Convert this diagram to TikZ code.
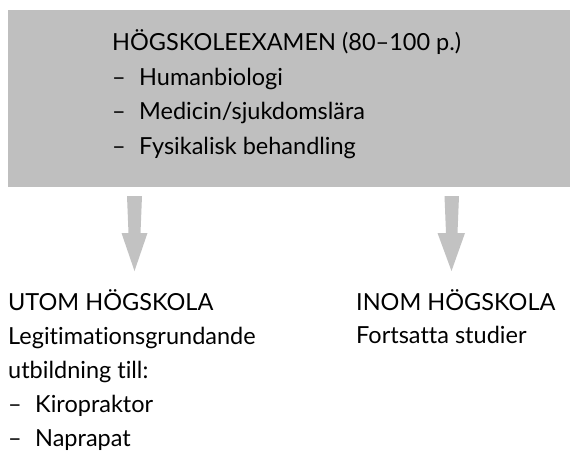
\documentclass[tikz,border=0pt]{standalone}
\usepackage{fontspec}
\setmainfont[RawFeature=-liga]{Lato}
\newcommand\itemdash{\makebox[27pt][l]{–}}
\begin{document}
\begin{tikzpicture}[x=1pt,y=-1pt,
  txt/.style={anchor=base west,inner sep=0pt,font=\fontsize{23.5}{34.5}\selectfont,align=left},
  arrowshape/.style={fill=black!24,draw=none}]
\useasboundingbox (0,0) rectangle (570,451);
\fill[black!25] (8,10) rectangle (570,187);
\node[txt] (top) at (112,50) {HÖGSKOLEEXAMEN (80–100 p.)};
\node[txt] (t1) at (112,85) {\itemdash Humanbiologi};
\node[txt] (t2) at (112,119.5) {\itemdash Medicin/sjukdomslära};
\node[txt] (t3) at (112,154) {\itemdash Fysikalisk behandling};
\fill[arrowshape] (127,196) -- (142,196) -- (140.5,233) -- (147.5,233) -- (134.5,271) -- (121.5,233) -- (128.5,233) -- cycle;
\fill[arrowshape] (444.5,196) -- (459,196) -- (457.5,233) -- (465,233) -- (451.5,271) -- (437.5,233) -- (446,233) -- cycle;
\node[txt] (u0) at (8,310) {UTOM HÖGSKOLA};
\node[txt] (u1) at (8,344) {Legitimationsgrundande};
\node[txt] (u2) at (8,378) {utbildning till:};
\node[txt] (u3) at (8,412) {\itemdash Kiropraktor};
\node[txt] (u4) at (8,446) {\itemdash Naprapat};
\node[txt] (i0) at (356,310) {INOM HÖGSKOLA};
\node[txt] (i1) at (356,343) {Fortsatta studier};
\end{tikzpicture}
\end{document}
